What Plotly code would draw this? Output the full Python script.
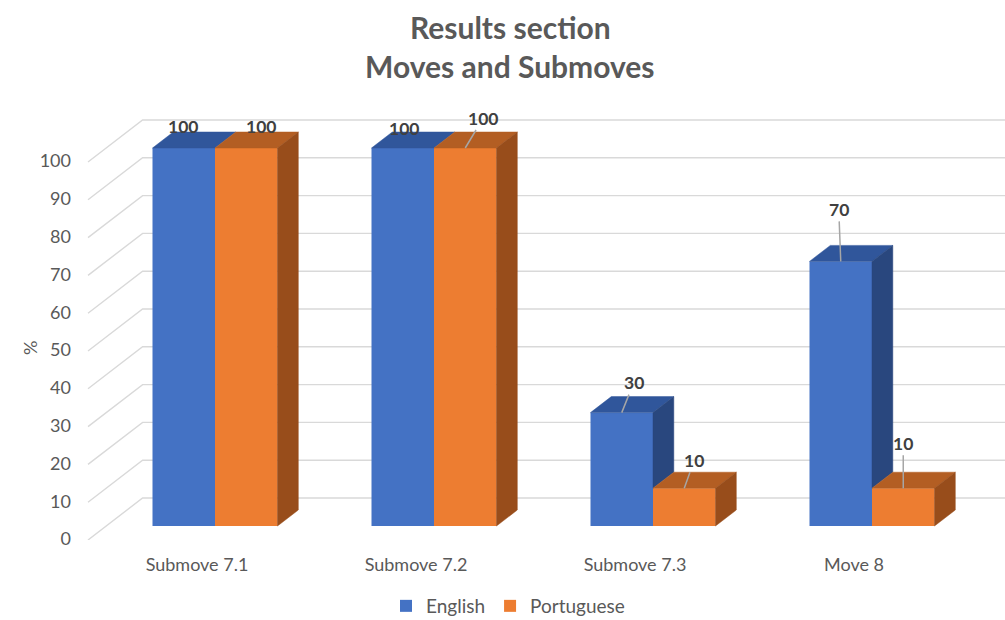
import plotly.graph_objects as go

# ---------------- data ----------------
categories = ["Submove 7.1", "Submove 7.2", "Submove 7.3", "Move 8"]
english = [100, 100, 30, 70]
portuguese = [100, 100, 10, 10]
series_names = ["English", "Portuguese"]
y_ticks = [0, 10, 20, 30, 40, 50, 60, 70, 80, 90, 100]
title_lines = ["Results section", "Moves and Submoves"]

# ---------------- style ----------------
front_colors = ["#4472C4", "#ED7D31"]
top_colors = ["#30569B", "#B35E23"]
side_colors = ["#29477E", "#984D1B"]
TEXT = "#595959"
LABEL = "#404040"
FONT = "Lato"

# data label placement: pixel offsets of text from front-top centre, leader line flag
label_style = [
    [(-1, -22, False), (1, -20, False), (12, -30, True), (-2, -52, True)],
    [(15, -22, False), (18, -30, True), (10, -28, True), (0, -45, True)],
]

W, H = 1005, 620
ML, MB = 78, 80
PW, PH = W - ML, H - MB
PX_CAT = 219.0      # px per category
PX_VAL = 3.78       # px per value unit
X0_PX = 215 - ML    # category 0 centre from plot left
Y0_PX = 14          # value 0 at bar front, above plot bottom
x_range = [-X0_PX / PX_CAT, (PW - X0_PX) / PX_CAT]
y_range = [-Y0_PX / PX_VAL, (PH - Y0_PX) / PX_VAL]

SLOPE = 1.3


def depth(d):
    return SLOPE * d / PX_CAT, d / PX_VAL


BAR_W = 62.5 / PX_CAT
BAR_DEPTH = 16
FLOOR_TO_BAR = 14
BAR_TO_WALL = 28
FLOOR_LEFT_X = (88 - ML - X0_PX) / PX_CAT

fig = go.Figure()

series = [english, portuguese]

# front faces as bars
for k, (name, vals) in enumerate(zip(series_names, series)):
    fig.add_trace(go.Bar(
        x=list(range(len(categories))), y=vals, name=name,
        width=BAR_W, offset=(-BAR_W if k == 0 else 0),
        marker=dict(color=front_colors[k], line=dict(width=0)),
        hoverinfo="skip",
    ))

# top and side faces
ddx, ddy = depth(BAR_DEPTH)
for k, vals in enumerate(series):
    tx, ty, sx, sy = [], [], [], []
    for i, v in enumerate(vals):
        xl = i + (-BAR_W if k == 0 else 0)
        xr = xl + BAR_W
        tx += [xl, xr, xr + ddx, xl + ddx, xl, None]
        ty += [v, v, v + ddy, v + ddy, v, None]
        lower = 0 if k == len(series) - 1 else min(v, series[k + 1][i])
        if lower < v:
            sx += [xr, xr, xr + ddx, xr + ddx, xr, None]
            sy += [lower, v, v + ddy, lower + ddy, lower, None]
    fig.add_trace(go.Scatter(x=tx, y=ty, fill="toself", fillcolor=top_colors[k], mode="lines",
                             line=dict(color=top_colors[k], width=0.5), showlegend=False, hoverinfo="skip"))
    if sx:
        fig.add_trace(go.Scatter(x=sx, y=sy, fill="toself", fillcolor=side_colors[k], mode="lines",
                                 line=dict(color=side_colors[k], width=0.5), showlegend=False, hoverinfo="skip"))

# invisible trace for label axes
fig.add_trace(go.Scatter(x=[], y=[], xaxis="x2", yaxis="y2", showlegend=False, hoverinfo="skip"))

# gridlines: floor diagonal + back wall
fdx, fdy = depth(-FLOOR_TO_BAR)
wdx, wdy = depth(BAR_TO_WALL)
wall_left_x = FLOOR_LEFT_X + SLOPE * (FLOOR_TO_BAR + BAR_TO_WALL) / PX_CAT
for v in y_ticks:
    path = (f"M {FLOOR_LEFT_X},{v + fdy} L {wall_left_x},{v + wdy} "
            f"L {x_range[1]},{v + wdy}")
    fig.add_shape(type="path", path=path, xref="x", yref="y", layer="below",
                  line=dict(color="#D9D9D9", width=1.4))

# data labels
for k, vals in enumerate(series):
    for i, v in enumerate(vals):
        ax, ay, lead = label_style[k][i]
        xc = i + (-BAR_W / 2 if k == 0 else BAR_W / 2)
        fig.add_annotation(
            x=xc, y=v, xref="x", yref="y", text=f"<b>{v}</b>",
            showarrow=True, arrowhead=0, arrowwidth=1.5, standoff=0,
            arrowcolor="#A6A6A6" if lead else "rgba(0,0,0,0)",
            ax=ax, ay=ay, axref="pixel", ayref="pixel",
            font=dict(family=FONT, size=17.5, color=LABEL),
        )

# title (two lines)
for line, ypx in zip(title_lines, [27, 66]):
    fig.add_annotation(x=(510 - ML) / PW, y=(PH - ypx) / PH, xref="paper", yref="paper",
                       xanchor="center", yanchor="middle", showarrow=False,
                       text=f"<b>{line}</b>", font=dict(family=FONT, size=30, color=TEXT))

# % axis title
fig.add_annotation(x=(17 - ML) / PW, y=(PH - 348) / PH, xref="paper", yref="paper",
                   text="%", textangle=-90, showarrow=False,
                   font=dict(family=FONT, size=18, color=TEXT))

lab_shift_x = 18 / PX_CAT
lab_shift_y = 13 / PX_VAL

fig.update_layout(
    width=W, height=H,
    margin=dict(l=ML, r=0, t=0, b=MB, autoexpand=False),
    paper_bgcolor="white", plot_bgcolor="white",
    barmode="overlay",
    showlegend=True,
    xaxis=dict(range=x_range, visible=False, fixedrange=True),
    yaxis=dict(range=y_range, visible=False, fixedrange=True),
    xaxis2=dict(range=[x_range[0] + lab_shift_x, x_range[1] + lab_shift_x], overlaying="x",
                side="bottom", tickvals=list(range(len(categories))), ticktext=categories,
                showgrid=False, zeroline=False, showline=False, ticks="", ticklabelstandoff=12,
                tickfont=dict(family=FONT, size=18, color=TEXT), fixedrange=True),
    yaxis2=dict(range=[y_range[0] + lab_shift_y, y_range[1] + lab_shift_y], overlaying="y",
                side="left", tickvals=y_ticks, showgrid=False, zeroline=False, showline=False,
                ticks="", ticklabelstandoff=6,
                tickfont=dict(family=FONT, size=18, color=TEXT), fixedrange=True),
    legend=dict(orientation="h", x=(508 - ML) / PW, xanchor="center", y=-66 / PH, yanchor="middle",
                font=dict(family=FONT, size=19, color=TEXT), traceorder="normal",
                itemwidth=30),
)

fig.write_html("out.html")
